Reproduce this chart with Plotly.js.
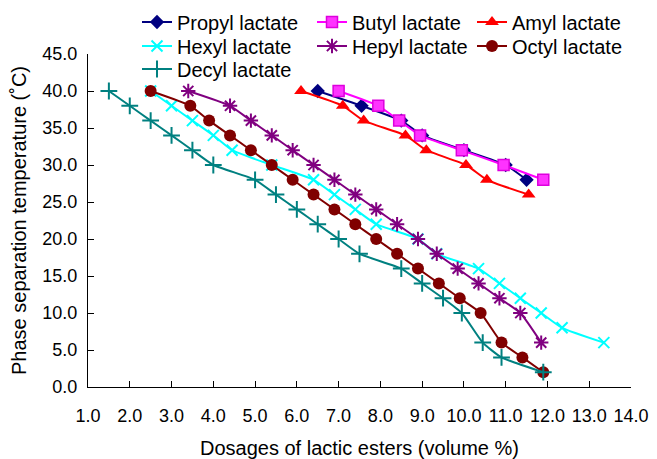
<!DOCTYPE html>
<html>
<head>
<meta charset="utf-8">
<script src="https://cdn.plot.ly/plotly-3.0.1.min.js"></script>
<style>html,body{margin:0;padding:0;background:#fff;}#chart{width:657px;height:459px;}</style>
</head>
<body>
<div id="chart"></div>
<script>
// Series names
const seriesNames = ["Propyl lactate", "Butyl lactate", "Amyl lactate", "Hexyl lactate", "Hepyl lactate", "Octyl lactate", "Decyl lactate"];

// Dosage (volume %) and phase separation temperature (°C) per series
const propylX = [6.5, 7.55, 8.5, 9.0, 10.0, 11.0, 11.5];
const propylY = [40, 38, 36, 34, 32, 30, 28];

const butylX = [7.0, 7.95, 8.45, 8.95, 9.95, 10.95, 11.9];
const butylY = [40, 38, 36, 34, 32, 30, 28];

const amylX = [6.1, 7.1, 7.6, 8.6, 9.1, 10.05, 10.55, 11.55];
const amylY = [40, 38, 36, 34, 32, 30, 28, 26];

const hexylX = [2.5, 3.0, 3.5, 4.0, 4.45, 5.4, 6.4, 6.9, 7.4, 7.9, 8.9, 9.35, 10.35, 10.85, 11.35, 11.85, 12.35, 13.35];
const hexylY = [40, 38, 36, 34, 32, 30, 28, 26, 24, 22, 20, 18, 16, 14, 12, 10, 8, 6];

const hepylX = [3.4, 4.4, 4.9, 5.4, 5.9, 6.4, 6.9, 7.4, 7.9, 8.4, 8.9, 9.35, 9.85, 10.35, 10.85, 11.35, 11.85];
const hepylY = [40, 38, 36, 34, 32, 30, 28, 26, 24, 22, 20, 18, 16, 14, 12, 10, 6];

const octylX = [2.5, 3.45, 3.9, 4.4, 4.9, 5.4, 5.9, 6.4, 6.9, 7.4, 7.9, 8.4, 8.9, 9.4, 9.9, 10.4, 10.9, 11.4, 11.9];
const octylY = [40, 38, 36, 34, 32, 30, 28, 26, 24, 22, 20, 18, 16, 14, 12, 10, 6, 4, 2];

const decylX = [1.5, 2.0, 2.5, 3.0, 3.5, 4.0, 5.0, 5.5, 6.0, 6.5, 7.0, 7.5, 8.5, 9.0, 9.5, 9.95, 10.45, 10.9, 11.9];
const decylY = [40, 38, 36, 34, 32, 30, 28, 26, 24, 22, 20, 18, 16, 14, 12, 10, 6, 4, 2];

// Axis labels
const xTitle = "Dosages of lactic esters (volume %)";
const yTitle = "Phase separation temperature (˚C)";

const FONT = "Liberation Sans, Arial, sans-serif";

function tr(name, legendId, x, y, color, marker) {
  return {
    type: "scatter", mode: "lines+markers", name: name, x: x, y: y,
    legend: legendId,
    line: {color: color, width: 2, shape: "spline", smoothing: 0.5},
    marker: marker,
    cliponaxis: false
  };
}

const data = [
  tr(seriesNames[0], "legend", propylX, propylY, "#000080", {color: "#000080", symbol: "diamond", size: 11, line: {width: 0}}),
  tr(seriesNames[1], "legend2", butylX, butylY, "#FF00FF", {color: "#FF33FF", symbol: "square", size: 11, line: {color: "#DD00DD", width: 1.5}}),
  tr(seriesNames[2], "legend3", amylX, amylY, "#FF0000", {color: "#FF0000", symbol: "triangle-up", size: 12, line: {width: 0}}),
  tr(seriesNames[3], "legend4", hexylX, hexylY, "#00FFFF", {color: "#00FFFF", symbol: "x-thin", size: 11, line: {color: "#00FFFF", width: 2}}),
  tr(seriesNames[4], "legend5", hepylX, hepylY, "#800080", {color: "#800080", symbol: "asterisk", size: 12, line: {color: "#800080", width: 2}}),
  tr(seriesNames[5], "legend6", octylX, octylY, "#800000", {color: "#800000", symbol: "circle", size: 12, line: {width: 0}}),
  tr(seriesNames[6], "legend7", decylX, decylY, "#008080", {color: "#008080", symbol: "cross-thin", size: 12, line: {color: "#008080", width: 2}})
];

// plot area in pixels: x 88..631, y 54..387
function leg(px, py) {
  return {
    xref: "paper", yref: "paper",
    x: (px - 88) / 543, y: (387 - py) / 333, xanchor: "left", yanchor: "middle",
    font: {family: FONT, size: 20, color: "#000"},
    bgcolor: "rgba(0,0,0,0)", borderwidth: 0
  };
}

const colX = [137, 312, 472];
const rowY = [22, 46, 69];

const layout = {
  width: 657, height: 459,
  margin: {l: 88, r: 26, t: 54, b: 72, autoexpand: false},
  paper_bgcolor: "#fff", plot_bgcolor: "#fff",
  font: {family: FONT, size: 18, color: "#000"},
  showlegend: true,
  legend: leg(colX[0], rowY[0]),
  legend2: leg(colX[1], rowY[0]),
  legend3: leg(colX[2], rowY[0]),
  legend4: leg(colX[0], rowY[1]),
  legend5: leg(colX[1], rowY[1]),
  legend6: leg(colX[2], rowY[1]),
  legend7: leg(colX[0], rowY[2]),
  xaxis: {
    range: [1, 14], dtick: 1, tick0: 1, tickformat: ".1f",
    showgrid: false, zeroline: false, showline: true, linecolor: "#000", linewidth: 1,
    ticks: "inside", ticklen: 6, tickcolor: "#000", tickwidth: 1,
    ticklabelstandoff: 12, automargin: false,
    tickfont: {family: FONT, size: 18, color: "#000"},
    title: {text: xTitle, font: {family: FONT, size: 20, color: "#000"}, standoff: 20}
  },
  yaxis: {
    range: [0, 45], dtick: 5, tick0: 0, tickformat: ".1f",
    showgrid: false, zeroline: false, showline: true, linecolor: "#000", linewidth: 1,
    ticks: "inside", ticklen: 6, tickcolor: "#000", tickwidth: 1,
    ticklabelstandoff: 6, automargin: false,
    tickfont: {family: FONT, size: 18, color: "#000"},
    title: {text: yTitle, font: {family: FONT, size: 20, color: "#000"}, standoff: 10}
  }
};

Plotly.newPlot("chart", data, layout, {displayModeBar: false, staticPlot: true});
</script>
</body>
</html>
